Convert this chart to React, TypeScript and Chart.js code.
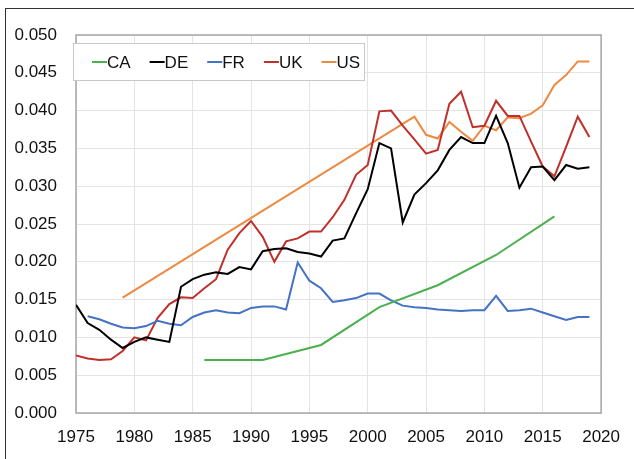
import React, { useEffect, useRef } from "react";
import { Chart, registerables } from "chart.js";

Chart.register(...registerables);

const caYears = [1986, 1991, 1996, 2001, 2006, 2011, 2016];
const caValues = [0.007, 0.007, 0.009, 0.014, 0.0169, 0.0209, 0.026];

const deYears = [
  1975, 1976, 1977, 1978, 1979, 1980, 1981, 1982, 1983, 1984, 1985, 1986, 1987, 1988, 1989,
  1990, 1991, 1992, 1993, 1994, 1995, 1996, 1997, 1998, 1999, 2000, 2001, 2002, 2003, 2004,
  2005, 2006, 2007, 2008, 2009, 2010, 2011, 2012, 2013, 2014, 2015, 2016, 2017, 2018, 2019,
];
const deValues = [
  0.0143, 0.0119, 0.011, 0.0097, 0.0086, 0.0094, 0.01, 0.0097, 0.0094, 0.0167, 0.0177, 0.0183,
  0.0186, 0.0184, 0.0193, 0.019, 0.0214, 0.0217, 0.0218, 0.0213, 0.0211, 0.0207, 0.0228, 0.0231,
  0.0264, 0.0296, 0.0357, 0.035, 0.0252, 0.0289, 0.0304, 0.0321, 0.0348, 0.0365, 0.0357, 0.0357,
  0.0393, 0.0357, 0.0298, 0.0325, 0.0326, 0.0308, 0.0328, 0.0323, 0.0325,
];

const frYears = [
  1976, 1977, 1978, 1979, 1980, 1981, 1982, 1983, 1984, 1985, 1986, 1987, 1988, 1989, 1990,
  1991, 1992, 1993, 1994, 1995, 1996, 1997, 1998, 1999, 2000, 2001, 2002, 2003, 2004, 2005,
  2006, 2007, 2008, 2009, 2010, 2011, 2012, 2013, 2014, 2015, 2016, 2017, 2018, 2019,
];
const frValues = [
  0.0128, 0.0124, 0.0118, 0.0113, 0.0112, 0.0115, 0.0122, 0.0118, 0.0116, 0.0127, 0.0133, 0.0136,
  0.0133, 0.0132, 0.0139, 0.0141, 0.0141, 0.0137, 0.0199, 0.0175, 0.0165, 0.0147, 0.0149, 0.0152,
  0.0158, 0.0158, 0.0149, 0.0142, 0.014, 0.0139, 0.0137, 0.0136, 0.0135, 0.0136, 0.0136, 0.0155,
  0.0135, 0.0136, 0.0138, 0.0133, 0.0128, 0.0123, 0.0127, 0.0127,
];

const ukYears = deYears;
const ukValues = [
  0.0076, 0.0072, 0.007, 0.0071, 0.0082, 0.01, 0.0096, 0.0126, 0.0144, 0.0153, 0.0152, 0.0165,
  0.0177, 0.0216, 0.0238, 0.0254, 0.0233, 0.02, 0.0227, 0.0231, 0.024, 0.024, 0.0259, 0.0282,
  0.0315, 0.0328, 0.0399, 0.04, 0.038, 0.0362, 0.0343, 0.0348, 0.0409, 0.0425, 0.0378, 0.038,
  0.0413, 0.0393, 0.0393, 0.0359, 0.0326, 0.0313, 0.0352, 0.0392, 0.0365,
];

const usYears = [1979, 2004, 2005, 2006, 2007, 2008, 2009, 2010, 2011, 2012, 2013, 2014, 2015, 2016, 2017, 2018, 2019];
const usValues = [
  0.01525, 0.0392, 0.0368, 0.0363, 0.0385, 0.0372, 0.036, 0.038, 0.0374, 0.0391, 0.039, 0.0396,
  0.0407, 0.0434, 0.0447, 0.0465, 0.0465,
];

const seriesLabels = ["CA", "DE", "FR", "UK", "US"];
const seriesColors = ["#4CAF50", "#000000", "#4472C4", "#C0302B", "#ED8A42"];

const FONT = "'Liberation Sans', Arial, Helvetica, sans-serif";

function pts(xs: number[], ys: number[]) {
  return xs.map((x, i) => ({ x, y: ys[i] }));
}

const frameLegendPlugin = {
  id: "frameLegend",
  beforeDatasetsDraw(chart: any) {
    const { ctx, chartArea } = chart;
    ctx.save();
    ctx.strokeStyle = "#A6A6A6";
    ctx.lineWidth = 1.5;
    ctx.strokeRect(chartArea.left, chartArea.top, chartArea.right - chartArea.left, chartArea.bottom - chartArea.top);
    ctx.restore();
  },
  afterDatasetsDraw(chart: any) {
    const { ctx } = chart;
    ctx.save();
    const bx = 73, by = 43, bw = 291, bh = 37;
    ctx.fillStyle = "#ffffff";
    ctx.fillRect(bx, by, bw, bh);
    ctx.strokeStyle = "#C8C8C8";
    ctx.lineWidth = 1;
    ctx.strokeRect(bx + 0.5, by + 0.5, bw, bh);
    ctx.font = `17px ${FONT}`;
    ctx.textBaseline = "middle";
    let x = 92;
    const y = 62;
    chart.data.datasets.forEach((ds: any) => {
      ctx.strokeStyle = ds.borderColor;
      ctx.lineWidth = 2;
      ctx.beginPath();
      ctx.moveTo(x, y);
      ctx.lineTo(x + 15, y);
      ctx.stroke();
      ctx.fillStyle = "#111";
      ctx.fillText(ds.label, x + 15, y + 1);
      x += 15 + ctx.measureText(ds.label).width + 19;
    });
    ctx.restore();
  },
};

export default function App() {
  const ref = useRef<HTMLCanvasElement | null>(null);
  useEffect(() => {
    if (!ref.current) return;
    const data = [
      pts(caYears, caValues),
      pts(deYears, deValues),
      pts(frYears, frValues),
      pts(ukYears, ukValues),
      pts(usYears, usValues),
    ];
    const chart = new Chart(ref.current, {
      type: "line",
      data: {
        datasets: seriesLabels.map((label, i) => ({
          label,
          data: data[i],
          borderColor: seriesColors[i],
          backgroundColor: seriesColors[i],
          borderWidth: 2,
          pointRadius: 0,
          tension: 0,
          fill: false,
        })),
      },
      options: {
        animation: false,
        responsive: false,
        maintainAspectRatio: false,
        layout: { padding: { left: 0, top: 35, right: 21, bottom: 0 } },
        plugins: { legend: { display: false }, tooltip: { enabled: false } },
        scales: {
          x: {
            type: "linear",
            min: 1975,
            max: 2020,
            ticks: {
              stepSize: 5,
              color: "#111",
              font: { family: FONT, size: 17 },
              padding: 14,
              maxRotation: 0,
              callback: (v: any) => String(v),
            },
            grid: { color: "#E4E4E4", lineWidth: 1, drawTicks: false },
            border: { display: false },
            afterFit: (s: any) => {
              s.height = 46;
            },
          },
          y: {
            type: "linear",
            min: 0,
            max: 0.05,
            ticks: {
              stepSize: 0.005,
              color: "#111",
              font: { family: FONT, size: 17 },
              padding: 19,
              callback: (v: any) => Number(v).toFixed(3),
            },
            grid: { color: "#E4E4E4", lineWidth: 1, drawTicks: false },
            border: { display: false },
            afterFit: (s: any) => {
              s.width = 76;
            },
          },
        },
      },
      plugins: [frameLegendPlugin],
    });
    return () => chart.destroy();
  }, []);
  return (
    <div style={{ position: "fixed", left: 0, top: 0, width: 634, height: 459, background: "#fff" }}>
      <div
        style={{
          position: "absolute",
          left: 5,
          top: 8,
          width: 640,
          height: 460,
          borderTop: "1px solid #333",
          borderLeft: "1px solid #333",
        }}
      />
      <canvas ref={ref} width={634} height={459} style={{ position: "absolute", left: 0, top: 0 }} />
    </div>
  );
}
